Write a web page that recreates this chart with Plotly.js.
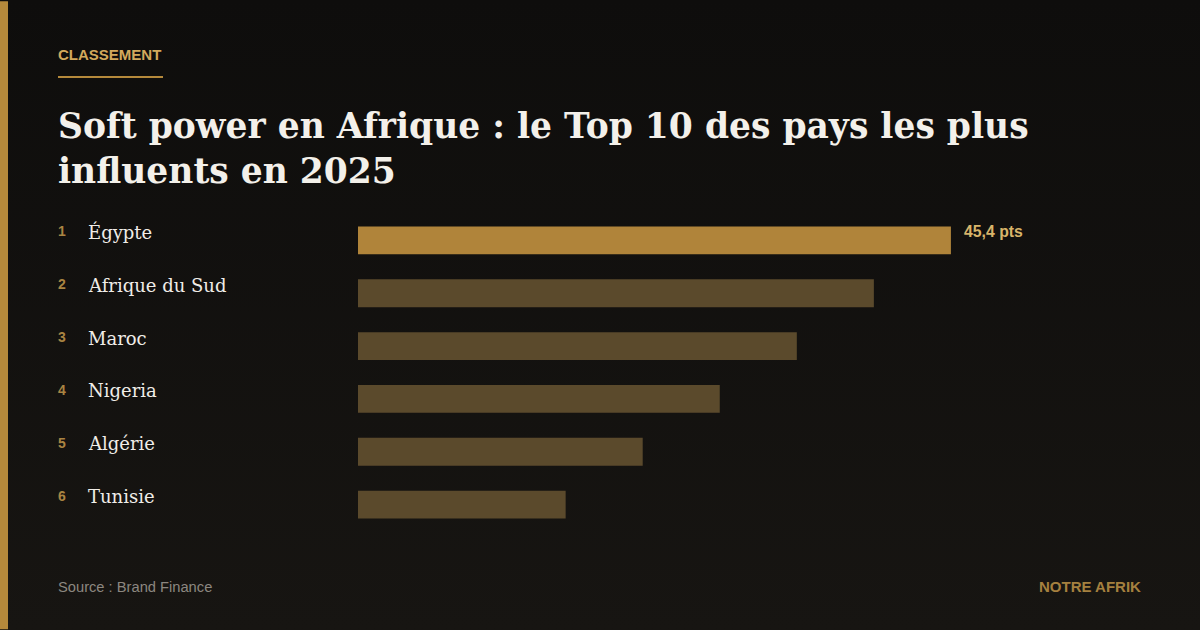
<!DOCTYPE html>
<html>
<head>
<meta charset="utf-8">
<script src="https://cdn.plot.ly/plotly-3.0.1.min.js"></script>
<style>
  html, body { margin:0; padding:0; width:1200px; height:630px; overflow:hidden;
    background: linear-gradient(180deg, #0e0d0c 0%, #171512 100%); }
  #chart { width:1200px; height:630px; }
</style>
</head>
<body>
<div id="chart"></div>
<script>
const ranks = ["1", "2", "3", "4", "5", "6"];
const countries = ["Égypte", "Afrique du Sud", "Maroc", "Nigeria", "Algérie", "Tunisie"];
const scores = [45.4, 39.5, 33.6, 27.7, 21.8, 15.9];
const valueLabels = ["45,4 pts", "", "", "", "", ""];
const kicker = "CLASSEMENT";
const titleText = "Soft power en Afrique : le Top 10 des pays les plus<br>influents en 2025";
const sourceText = "Source : Brand Finance";
const brandText = "NOTRE AFRIK";

const W = 1200, H = 630;
const mL = 358, mR = 189, mT = 213.5, mB = 98.5;
const plotW = W - mL - mR;
const px = (xPix) => (xPix - mL) / plotW;           // container px -> paper x
const py = (yPix) => 1 - (yPix - mT) / (H - mT - mB); // container px -> paper y

const barColors = scores.map((v, i) => i === 0 ? "#b0843a" : "#5b4a2c");
const serif = "Georgia, 'DejaVu Serif', serif";
const sans = "'Liberation Sans', Arial, sans-serif";

const annotations = [];
countries.forEach((c, i) => {
  annotations.push({ xref: "paper", x: px(86), yref: "y", y: c, xanchor: "left", yanchor: "middle",
    yshift: 8, text: c, showarrow: false,
    font: { family: serif, size: 18, color: "#f0ede8" } });
  annotations.push({ xref: "paper", x: px(56), yref: "y", y: c, xanchor: "left", yanchor: "middle",
    yshift: 9, text: "<b>" + ranks[i] + "</b>", showarrow: false,
    font: { family: sans, size: 14, color: "#a98442" } });
  if (valueLabels[i]) {
    annotations.push({ xref: "x", x: scores[i], yref: "y", y: c, xanchor: "left", yanchor: "middle",
      xshift: 11, yshift: 9, text: "<b>" + valueLabels[i] + "</b>", showarrow: false,
      font: { family: sans, size: 15.8, color: "#d8b46a" } });
  }
});
annotations.push({ xref: "paper", x: px(56), yref: "paper", y: py(53), xanchor: "left", yanchor: "middle",
  text: "<b>" + kicker + "</b>", showarrow: false,
  font: { family: sans, size: 15, color: "#d2a95c" } });
annotations.push({ xref: "paper", x: px(56), yref: "paper", y: py(587.5), xanchor: "left", yanchor: "middle",
  text: sourceText, showarrow: false,
  font: { family: sans, size: 14.7, color: "#8c8780" } });
annotations.push({ xref: "paper", x: px(1143), yref: "paper", y: py(587), xanchor: "right", yanchor: "middle",
  text: "<b>" + brandText + "</b>", showarrow: false,
  font: { family: sans, size: 15, color: "#a5803f" } });

const shapes = [
  { type: "rect", xref: "paper", yref: "paper", x0: px(0), x1: px(8), y0: py(0), y1: py(630),
    fillcolor: "#b5893b", line: { width: 0 }, layer: "below" },
  { type: "line", xref: "paper", yref: "paper", x0: px(58), x1: px(163), y0: py(76), y1: py(76),
    line: { color: "#b5893b", width: 2 } }
];

Plotly.newPlot("chart", [{
  type: "bar", orientation: "h", x: scores, y: countries,
  marker: { color: barColors, line: { width: 0 } },
  width: 0.528, hoverinfo: "none", cliponaxis: false
}], {
  width: W, height: H,
  margin: { l: mL, r: mR, t: mT, b: mB, pad: 0 },
  paper_bgcolor: "rgba(0,0,0,0)", plot_bgcolor: "rgba(0,0,0,0)",
  showlegend: false,
  title: { text: "<b>" + titleText + "</b>", xref: "container", yref: "container",
    x: 58 / W, xanchor: "left", y: 1 - 138 / H, yanchor: "top",
    font: { family: serif, size: 34.5, color: "#f3f0ea" } },
  xaxis: { range: [0, 50], visible: false, fixedrange: true },
  yaxis: { autorange: "reversed", visible: false, fixedrange: true },
  annotations: annotations,
  shapes: shapes
}, { displayModeBar: false, staticPlot: true });
</script>
</body>
</html>
